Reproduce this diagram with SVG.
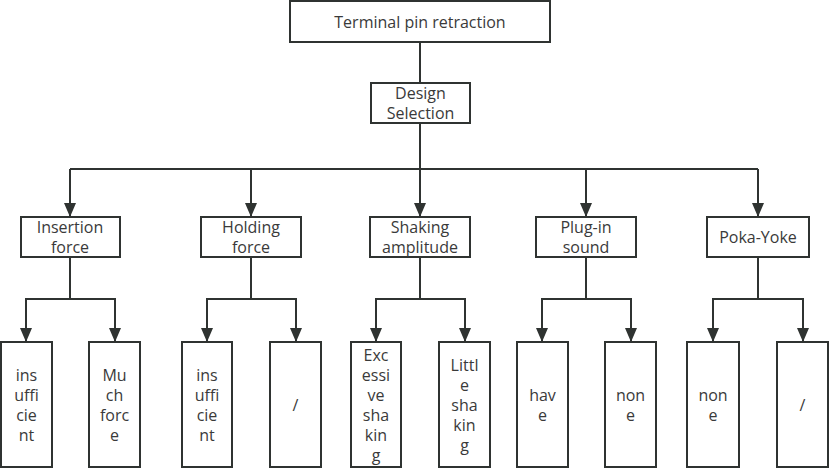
<svg xmlns="http://www.w3.org/2000/svg" width="830" height="468" viewBox="0 0 830 468">
<style>
.box{fill:#fff;stroke:#2f3331;stroke-width:2}
.t{font-family:"Open Sans","Noto Sans","Liberation Sans",sans-serif;font-size:16px;fill:#3a3a3a;text-anchor:middle;dominant-baseline:central}
.c{fill:none;stroke:#2f3331;stroke-width:2}
.h{fill:#2f3331}
</style>
<rect width="830" height="468" fill="#fff"/>
<g id="connectors">
<line class="c" x1="420" y1="42" x2="420" y2="83"/>
<line class="c" x1="420" y1="123" x2="420" y2="169"/>
<line class="c" x1="70" y1="169" x2="758" y2="169"/>
<line class="c" x1="70" y1="169" x2="70" y2="216"/>
<line class="c" x1="251" y1="169" x2="251" y2="216"/>
<line class="c" x1="420" y1="169" x2="420" y2="216"/>
<line class="c" x1="586" y1="169" x2="586" y2="216"/>
<line class="c" x1="758" y1="169" x2="758" y2="216"/>
<path class="h" d="M64,203 L76,203 L70,217 Z M245,203 L257,203 L251,217 Z M414,203 L426,203 L420,217 Z M580,203 L592,203 L586,217 Z M752,203 L764,203 L758,217 Z"/>
<line class="c" x1="70" y1="257" x2="70" y2="299"/>
<line class="c" x1="251" y1="257" x2="251" y2="299"/>
<line class="c" x1="420" y1="257" x2="420" y2="299"/>
<line class="c" x1="586" y1="257" x2="586" y2="299"/>
<line class="c" x1="758" y1="257" x2="758" y2="299"/>
<polyline class="c" points="26,341 26,299 115,299 115,341"/>
<polyline class="c" points="207,341 207,299 296,299 296,341"/>
<polyline class="c" points="376,341 376,299 465,299 465,341"/>
<polyline class="c" points="542,341 542,299 631,299 631,341"/>
<polyline class="c" points="713,341 713,299 803,299 803,341"/>
<path class="h" d="M20,328 L32,328 L26,342 Z M109,328 L121,328 L115,342 Z M201,328 L213,328 L207,342 Z M290,328 L302,328 L296,342 Z M370,328 L382,328 L376,342 Z M459,328 L471,328 L465,342 Z M536,328 L548,328 L542,342 Z M625,328 L637,328 L631,342 Z M707,328 L719,328 L713,342 Z M797,328 L809,328 L803,342 Z"/>
</g>
<g id="root"><rect class="box" x="290" y="1" width="260" height="41"/><text class="t" x="420" y="22">Terminal pin retraction</text></g>
<g id="design"><rect class="box" x="371" y="83" width="99" height="40"/><text class="t" x="420.5" y="93">Design</text><text class="t" x="420.5" y="113">Selection</text></g>
<g id="insertion"><rect class="box" x="21" y="217" width="99" height="40"/><text class="t" x="70" y="227">Insertion</text><text class="t" x="70" y="247">force</text></g>
<g id="holding"><rect class="box" x="201" y="217" width="100" height="40"/><text class="t" x="251" y="227">Holding</text><text class="t" x="251" y="247">force</text></g>
<g id="shaking"><rect class="box" x="370" y="217" width="100" height="40"/><text class="t" x="420" y="227">Shaking</text><text class="t" x="420" y="247">amplitude</text></g>
<g id="plugin"><rect class="box" x="536" y="217" width="100" height="40"/><text class="t" x="586" y="227">Plug-in</text><text class="t" x="586" y="247">sound</text></g>
<g id="pokayoke"><rect class="box" x="707" y="217" width="102" height="40"/><text class="t" x="758" y="237">Poka-Yoke</text></g>
<g id="leaf1"><rect class="box" x="1" y="342" width="51" height="125"/><text class="t"><tspan x="26.5" y="374.5">ins</tspan><tspan x="26.5" y="394.5">uffi</tspan><tspan x="26.5" y="414.5">cie</tspan><tspan x="26.5" y="434.5">nt</tspan></text></g>
<g id="leaf2"><rect class="box" x="89" y="342" width="51" height="125"/><text class="t"><tspan x="114.5" y="374.5">Mu</tspan><tspan x="114.5" y="394.5">ch</tspan><tspan x="114.5" y="414.5">forc</tspan><tspan x="114.5" y="434.5">e</tspan></text></g>
<g id="leaf3"><rect class="box" x="182" y="342" width="50" height="125"/><text class="t"><tspan x="207" y="374.5">ins</tspan><tspan x="207" y="394.5">uffi</tspan><tspan x="207" y="414.5">cie</tspan><tspan x="207" y="434.5">nt</tspan></text></g>
<g id="leaf4"><rect class="box" x="270" y="342" width="51" height="125"/><text class="t" x="295.5" y="405">/</text></g>
<g id="leaf5"><rect class="box" x="351" y="342" width="50" height="125"/><text class="t"><tspan x="376" y="355">Exc</tspan><tspan x="376" y="375">essi</tspan><tspan x="376" y="395">ve</tspan><tspan x="376" y="415">sha</tspan><tspan x="376" y="435">kin</tspan><tspan x="376" y="455">g</tspan></text></g>
<g id="leaf6"><rect class="box" x="439" y="342" width="51" height="125"/><text class="t"><tspan x="464.5" y="365">Littl</tspan><tspan x="464.5" y="385">e</tspan><tspan x="464.5" y="405">sha</tspan><tspan x="464.5" y="425">kin</tspan><tspan x="464.5" y="445">g</tspan></text></g>
<g id="leaf7"><rect class="box" x="517" y="342" width="51" height="125"/><text class="t"><tspan x="542.5" y="395">hav</tspan><tspan x="542.5" y="415">e</tspan></text></g>
<g id="leaf8"><rect class="box" x="605" y="342" width="51" height="125"/><text class="t"><tspan x="630.5" y="395">non</tspan><tspan x="630.5" y="415">e</tspan></text></g>
<g id="leaf9"><rect class="box" x="687" y="342" width="52" height="125"/><text class="t"><tspan x="713" y="395">non</tspan><tspan x="713" y="415">e</tspan></text></g>
<g id="leaf10"><rect class="box" x="777" y="342" width="51" height="125"/><text class="t" x="802.5" y="405">/</text></g>
</svg>
